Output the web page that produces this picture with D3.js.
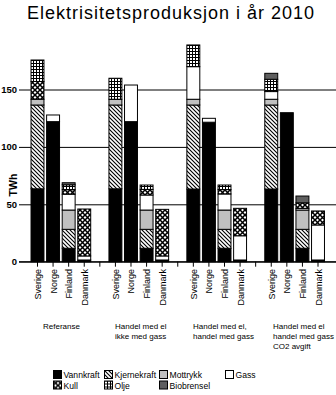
<!DOCTYPE html>
<html>
<head>
<meta charset="utf-8">
<script src="https://cdn.jsdelivr.net/npm/d3@7"></script>
<style>
  body { margin: 0; background: #fff; }
  svg { display: block; font-family: "Liberation Sans", Arial, sans-serif; }
</style>
</head>
<body>
<div id="chart"></div>
<script>
// Electricity production 2010 (TWh), four scenarios x four countries
const countries = ['Sverige', 'Norge', 'Finland', 'Danmark'];
const scenarios = [
    ['Referanse'],
    ['Handel med el', 'ikke med gass'],
    ['Handel med el,', 'handel med gass'],
    ['Handel med el', 'handel med gass', 'CO2 avgift']
];
const sources = ['Vannkraft', 'Kjernekraft', 'Mottrykk', 'Gass', 'Kull', 'Olje', 'Biobrensel'];

// one value per bar: scenario by scenario, Sverige / Norge / Finland / Danmark
const vannkraft   = [63.5, 122, 11.7, 1.5,  63.5, 122, 11.7, 1.5,  63.3, 121.5, 11.7, 1.5,  63.3, 129.8, 11.7, 1.5];
const kjernekraft = [73, 0, 16.5, 0,        73, 0, 16.5, 0,        73.2, 0, 16.5, 0,        73.2, 0, 16.5, 0];
const mottrykk    = [5, 0, 16.8, 0,         5, 0, 16.8, 0,         5, 0, 16.8, 0,           5, 0, 16.8, 0];
const gass        = [0, 5.8, 13.8, 3.5,     0, 31.9, 13.1, 3.5,    28.4, 3.4, 14, 21.1,     6.7, 0, 1.5, 30.5];
const kull        = [15.5, 0, 3.9, 40.9,    0, 0, 4.9, 40.6,       0, 0, 3.8, 23.9,         0, 0, 4.8, 12.2];
const olje        = [18.7, 0, 4.3, 0,       18.3, 0, 3.8, 0,       18.9, 0, 4, 0,           10.7, 0, 0, 0];
const biobrensel  = [0, 0, 1.8, 0,          0, 0, 0, 0,            0, 0, 0, 0,              5.2, 0, 5.9, 0];

const yTicks = [0, 50, 100, 150];

const seriesBySource = {
    Vannkraft: vannkraft, Kjernekraft: kjernekraft, Mottrykk: mottrykk,
    Gass: gass, Kull: kull, Olje: olje, Biobrensel: biobrensel
};

const W = 336, H = 395;
const svg = d3.select('#chart').append('svg')
    .attr('width', W)
    .attr('height', H);

// --- fill patterns ---
const defs = svg.append('defs');

const hatch = defs.append('pattern')
    .attr('id', 'hatch')
    .attr('patternUnits', 'userSpaceOnUse')
    .attr('width', 4).attr('height', 4);
hatch.append('rect').attr('width', 4).attr('height', 4).attr('fill', '#fff');
hatch.append('path')
    .attr('d', 'M-1,-1L5,5M-1,3L1,5M3,-1L5,1')
    .attr('stroke', '#000').attr('stroke-width', 1.1);

const kullPat = defs.append('pattern')
    .attr('id', 'kull')
    .attr('patternUnits', 'userSpaceOnUse')
    .attr('width', 5).attr('height', 5);
kullPat.append('rect').attr('width', 5).attr('height', 5).attr('fill', '#fff');
kullPat.append('path')
    .attr('d', 'M0,0L5,5M5,0L0,5')
    .attr('stroke', '#000').attr('stroke-width', 1.5);

const oljePat = defs.append('pattern')
    .attr('id', 'olje')
    .attr('patternUnits', 'userSpaceOnUse')
    .attr('width', 3).attr('height', 3);
oljePat.append('rect').attr('width', 3).attr('height', 3).attr('fill', '#000');
oljePat.append('rect').attr('x', 1).attr('y', 1).attr('width', 2).attr('height', 2).attr('fill', '#fff');

const fills = {
    Vannkraft: '#000',
    Kjernekraft: 'url(#hatch)',
    Mottrykk: '#c0c0c0',
    Gass: '#fff',
    Kull: 'url(#kull)',
    Olje: 'url(#olje)',
    Biobrensel: '#5f5f5f'
};

// --- slots: four bars per scenario, an empty slot between scenarios ---
const slots = [];
const rows = [];
scenarios.forEach((s, si) => {
    countries.forEach((c, ci) => {
        const id = `${si}-${c}`;
        slots.push(id);
        const row = { slot: id, country: c };
        sources.forEach(src => { row[src] = seriesBySource[src][si * 4 + ci]; });
        rows.push(row);
    });
    if (si < scenarios.length - 1) slots.push(`gap${si}`);
});

const x = d3.scaleBand()
    .domain(slots)
    .range([29.7, 325.8])
    .paddingInner(0.17)
    .paddingOuter(0.085);

const y = d3.scaleLinear()
    .domain([0, 150])
    .range([261.7, 89.5]);

const left = 19;

// gridlines and value labels
const yAxis = svg.append('g')
    .attr('transform', `translate(${left},0)`)
    .call(d3.axisLeft(y).tickValues(yTicks).tickSize(-(W - left)).tickPadding(2));
yAxis.select('.domain').remove();
yAxis.selectAll('.tick line').attr('stroke', '#000').attr('stroke-width', 1);
yAxis.selectAll('.tick text')
    .attr('fill', '#000')
    .style('font-size', '9.5px')
    .style('font-weight', 'bold')
    .style('font-family', '"Liberation Sans", Arial, sans-serif');

svg.append('text')
    .attr('transform', `translate(17, 185) rotate(-90)`)
    .attr('text-anchor', 'middle')
    .style('font-size', '10.5px')
    .style('font-weight', 'bold')
    .text('TWh');

// stacked bars
const stacked = d3.stack().keys(sources)(rows);

const layers = svg.append('g').selectAll('g')
    .data(stacked)
    .join('g')
    .attr('fill', d => fills[d.key]);

layers.selectAll('rect')
    .data(d => d.filter(p => p[1] - p[0] > 0))
    .join('rect')
    .attr('x', d => x(d.data.slot))
    .attr('width', x.bandwidth())
    .attr('y', d => y(d[1]))
    .attr('height', d => y(d[0]) - y(d[1]))
    .attr('stroke', '#000')
    .attr('stroke-width', 1);

// category axis
const xAxis = svg.append('g')
    .attr('transform', `translate(0,${y(0)})`)
    .call(d3.axisBottom(x).tickSize(5).tickFormat(''));
xAxis.select('.domain').remove();
xAxis.selectAll('.tick line').attr('stroke', '#000');

svg.append('line')
    .attr('x1', left).attr('x2', W)
    .attr('y1', y(0)).attr('y2', y(0))
    .attr('stroke', '#000');

svg.append('g').selectAll('text')
    .data(rows)
    .join('text')
    .attr('transform', d => `translate(${x(d.slot) + x.bandwidth() / 2 + 3.5},269) rotate(-90)`)
    .attr('text-anchor', 'end')
    .style('font-size', '9px')
    .text(d => d.country);

// scenario captions, left aligned under each group
const captionX = [43, 115, 193, 273];
scenarios.forEach((lines, si) => {
    const t = svg.append('text')
        .attr('x', captionX[si])
        .attr('y', 329)
        .style('font-size', '8px');
    lines.forEach((line, li) => {
        t.append('tspan')
            .attr('x', captionX[si])
            .attr('dy', li === 0 ? 0 : 10)
            .text(line);
    });
});

// title
svg.append('text')
    .attr('x', 171)
    .attr('y', 19)
    .attr('text-anchor', 'middle')
    .style('font-size', '18px')
    .style('letter-spacing', '1px')
    .text('Elektrisitetsproduksjon i år 2010');

// legend
const legendItems = [
    { key: 'Vannkraft', x: 53, y: 370 },
    { key: 'Kjernekraft', x: 104, y: 370 },
    { key: 'Mottrykk', x: 159, y: 370 },
    { key: 'Gass', x: 225, y: 370 },
    { key: 'Kull', x: 53, y: 380.5 },
    { key: 'Olje', x: 104, y: 380.5 },
    { key: 'Biobrensel', x: 159, y: 380.5 }
];
const legend = svg.append('g').selectAll('g')
    .data(legendItems)
    .join('g')
    .attr('transform', d => `translate(${d.x},${d.y})`);
legend.append('rect')
    .attr('x', 0.5).attr('y', 0.5)
    .attr('width', 8).attr('height', 8)
    .attr('fill', d => fills[d.key])
    .attr('stroke', '#000');
legend.append('text')
    .attr('x', 10.5)
    .attr('y', 8)
    .style('font-size', '8.6px')
    .text(d => d.key);
</script>
</body>
</html>
